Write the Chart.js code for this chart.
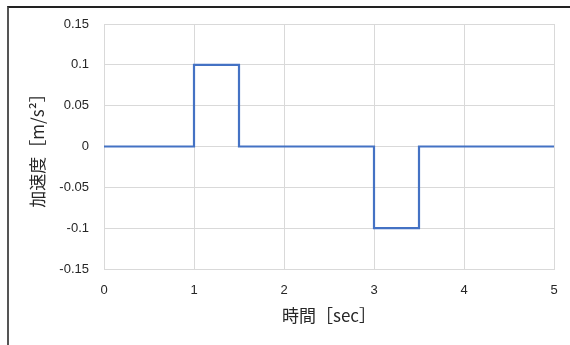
<!DOCTYPE html>
<html>
<head>
<meta charset="utf-8">
<script src="https://cdn.jsdelivr.net/npm/chart.js@4.4.0/dist/chart.umd.min.js"></script>
<style>
  body { margin: 0; background: #fff; }
  #wrap { position: relative; width: 570px; height: 345px; }
  #marco { position: absolute; left: 7px; top: 6px; right: 0; bottom: 0; border-top: 2px solid #222; border-left: 2px solid #555; }
  canvas { position: absolute; left: 0; top: 0; }
</style>
</head>
<body>
<div id="wrap">
  <canvas id="graficoAceleracion" width="570" height="345"></canvas>
  <div id="marco"></div>
</div>
<script>
// tiempo [sec] y aceleración [m/s2], escalón
const tiempos = [0, 1, 1, 1.5, 1.5, 3, 3, 3.5, 3.5, 5];
const aceleraciones = [0, 0, 0.1, 0.1, 0, 0, -0.1, -0.1, 0, 0];
const ticksX = [0, 1, 2, 3, 4, 5];
const ticksY = [-0.15, -0.1, -0.05, 0, 0.05, 0.1, 0.15];

const puntos = tiempos.map((t, i) => ({ x: t, y: aceleraciones[i] }));
const colorTexto = '#262626';
const colorGrid = '#d9d9d9';

const ctx = document.getElementById('graficoAceleracion').getContext('2d');
new Chart(ctx, {
    type: 'line',
    data: {
        datasets: [{
            data: puntos,
            borderColor: '#4472C4',
            borderWidth: 2.2,
            pointRadius: 0,
            fill: false,
            tension: 0
        }]
    },
    options: {
        responsive: false,
        animation: false,
        layout: { padding: { left: 0, right: 16, top: 24, bottom: 0 } },
        plugins: { legend: { display: false }, tooltip: { enabled: false } },
        scales: {
            x: {
                type: 'linear',
                min: 0,
                max: 5,
                afterBuildTicks: s => { s.ticks = ticksX.map(v => ({ value: v })); },
                afterFit: s => { s.height = 76; s.paddingLeft = 0; s.paddingRight = 0; },
                grid: { color: colorGrid, drawTicks: false },
                border: { color: colorGrid },
                ticks: {
                    padding: 14,
                    color: colorTexto,
                    font: { family: 'Liberation Sans', size: 13 }
                },
                title: {
                    display: true,
                    text: '時間［sec］',
                    color: colorTexto,
                    padding: { top: 0, bottom: 19 },
                    font: { family: 'Noto Sans CJK JP', size: 17 }
                }
            },
            y: {
                min: -0.15,
                max: 0.15,
                afterBuildTicks: s => { s.ticks = ticksY.map(v => ({ value: v })); },
                afterFit: s => { s.width = 104; s.paddingTop = 0; s.paddingBottom = 0; },
                grid: { color: colorGrid, drawTicks: false },
                border: { color: colorGrid },
                ticks: {
                    padding: 15,
                    color: colorTexto,
                    font: { family: 'Liberation Sans', size: 13 },
                    callback: v => String(Number(v.toFixed(2)))
                },
                title: {
                    display: true,
                    text: '加速度［m/s²］',
                    color: colorTexto,
                    padding: { top: 27, bottom: 0 },
                    font: { family: 'Noto Sans CJK JP', size: 17 }
                }
            }
        }
    }
});
</script>
</body>
</html>
